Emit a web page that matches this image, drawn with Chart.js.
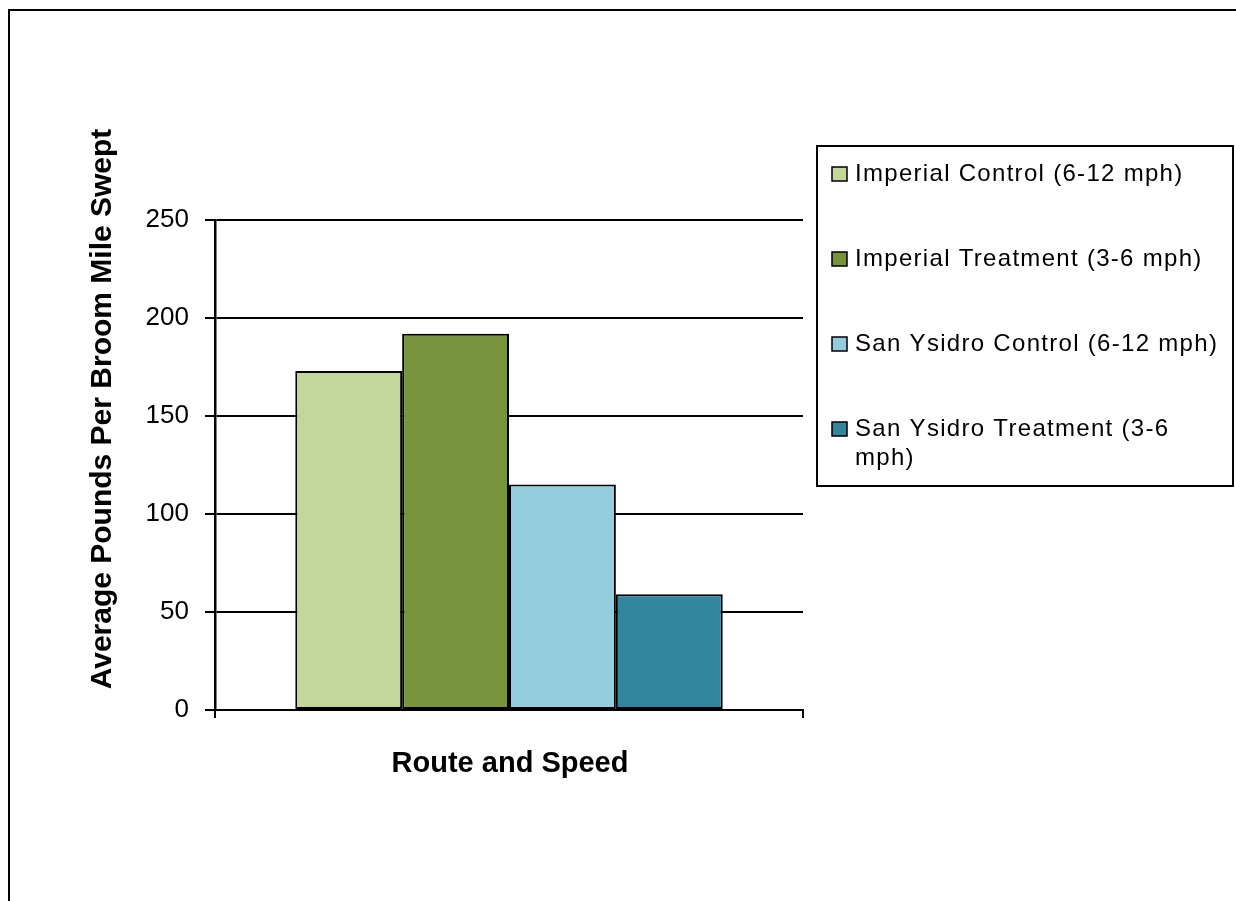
<!DOCTYPE html>
<html>
<head>
<meta charset="utf-8">
<script src="https://cdn.jsdelivr.net/npm/chart.js@4.4.0/dist/chart.umd.min.js"></script>
<style>
  html, body { margin: 0; padding: 0; background: #fff; }
  #wrap { width: 1236px; height: 901px; position: relative; }
</style>
</head>
<body>
<div id="wrap"><canvas id="broom"></canvas></div>
<script>
const categories = [''];
const seriesNames = [
    'Imperial Control (6-12 mph)',
    'Imperial Treatment (3-6 mph)',
    'San Ysidro Control (6-12 mph)',
    'San Ysidro Treatment (3-6 mph)'
];
const seriesValues = [173, 192, 115, 59];
const yTickLabels = [0, 50, 100, 150, 200, 250];
const xTitle = 'Route and Speed';
const yTitle = 'Average Pounds Per Broom Mile Swept';

// excel 2007 theme colours
const barColors = ['#C4D79B', '#77933C', '#93CDDD', '#31859C'];
const fontName = "'Liberation Sans', Arial, sans-serif";

const datasets = seriesNames.map((name, i) => ({
    label: name,
    data: [seriesValues[i]],
    backgroundColor: barColors[i],
    borderColor: '#000',
    borderWidth: 2,
    borderSkipped: false,
    categoryPercentage: 0.727,
    barPercentage: 1.0
}));

// frame, axis titles and the boxed legend on the right
const overlay = {
    id: 'overlay',
    beforeDraw(chart) {
        const ctx = chart.ctx;
        ctx.save();
        ctx.fillStyle = '#fff';
        ctx.fillRect(0, 0, chart.width, chart.height);
        ctx.strokeStyle = '#000';
        ctx.lineWidth = 2;
        ctx.strokeRect(9, 10, chart.width + 40, chart.height + 40);
        ctx.restore();
    },
    afterDraw(chart) {
        const ctx = chart.ctx;
        ctx.save();
        ctx.fillStyle = '#000';

        // x title
        ctx.font = 'bold 29px ' + fontName;
        ctx.textAlign = 'center';
        ctx.textBaseline = 'alphabetic';
        ctx.fillText(xTitle, 510, 772);

        // y title
        ctx.save();
        ctx.font = 'bold 30px ' + fontName;
        ctx.translate(103, 409);
        ctx.rotate(-Math.PI / 2);
        ctx.textBaseline = 'middle';
        ctx.fillText(yTitle, 0, 0);
        ctx.restore();

        // legend box
        ctx.strokeStyle = '#000';
        ctx.lineWidth = 2;
        ctx.strokeRect(817, 146, 416, 340);

        ctx.font = '24px ' + fontName;
        ctx.letterSpacing = '1.3px';
        ctx.textAlign = 'left';
        ctx.textBaseline = 'middle';
        const maxW = 370;
        chart.data.datasets.forEach((ds, i) => {
            const cy = 174 + i * 85;
            ctx.fillStyle = ds.backgroundColor;
            ctx.fillRect(832, cy - 7, 15, 14);
            ctx.lineWidth = 1.5;
            ctx.strokeRect(832, cy - 7, 15, 14);
            ctx.fillStyle = '#000';
            // wrap long labels like excel does
            const words = ds.label.split(' ');
            let line = '';
            let y = cy;
            words.forEach(w => {
                const test = line ? line + ' ' + w : w;
                if (ctx.measureText(test).width > maxW && line) {
                    ctx.fillText(line, 855, y);
                    line = w;
                    y += 29;
                } else {
                    line = test;
                }
            });
            ctx.fillText(line, 855, y);
        });
        ctx.restore();
    }
};

const ctxBroom = document.getElementById('broom');

const graphBroom = new Chart(ctxBroom, {
    type: 'bar',
    data: {
        labels: categories,
        datasets: datasets
    },
    plugins: [overlay],
    options: {
        responsive: true,
        maintainAspectRatio: false,
        animation: false,
        layout: {
            padding: { left: 0, top: 220, right: 433, bottom: 0 }
        },
        plugins: {
            legend: { display: false },
            tooltip: { enabled: false }
        },
        scales: {
            x: {
                afterFit: (scale) => { scale.height = 191; },
                ticks: { display: false },
                grid: {
                    offset: true,
                    drawOnChartArea: false,
                    drawTicks: true,
                    tickLength: 8,
                    color: '#000',
                    lineWidth: 2
                },
                border: { display: true, color: '#000', width: 2 }
            },
            y: {
                min: yTickLabels[0],
                max: yTickLabels[yTickLabels.length - 1],
                afterFit: (scale) => { scale.width = 215; },
                afterBuildTicks: (scale) => {
                    scale.ticks = yTickLabels.map(v => ({ value: v }));
                },
                ticks: {
                    color: '#000',
                    padding: 16,
                    font: { family: fontName, size: 26 }
                },
                grid: {
                    color: '#000',
                    lineWidth: 2,
                    tickLength: 10
                },
                border: { display: true, color: '#000', width: 2.5 }
            }
        }
    }
});
</script>
</body>
</html>
